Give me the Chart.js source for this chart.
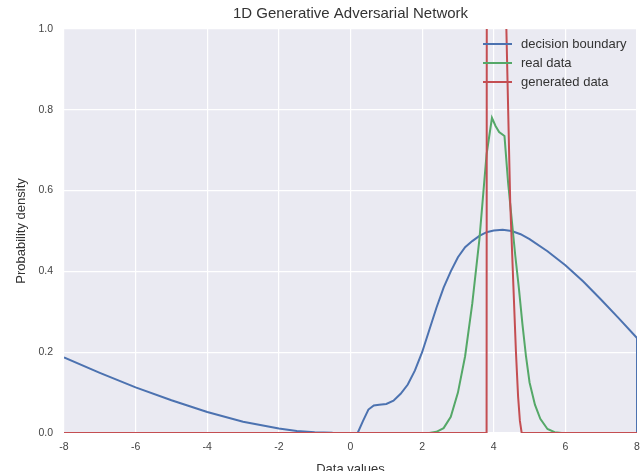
<!DOCTYPE html>
<html>
<head>
<meta charset="utf-8">
<script src="https://cdn.jsdelivr.net/npm/chart.js@4/dist/chart.umd.min.js"></script>
<style>
html,body{margin:0;padding:0;background:#fff;}
canvas{display:block;}
</style>
</head>
<body>
<canvas id="c" width="640" height="471"></canvas>
<script>
// ---- data ----
const titleText = "1D Generative Adversarial Network";
const xLabel = "Data values";
const yLabel = "Probability density";
const seriesNames = ["decision boundary", "real data", "generated data"];

const boundaryX = [-8, -7, -6, -5, -4, -3, -2, -1.5, -1, -0.5, 0, 0.2, 0.35, 0.5, 0.65, 0.8, 1.0, 1.2, 1.4, 1.6, 1.8, 2.0, 2.2, 2.4, 2.6, 2.8, 3.0, 3.2, 3.4, 3.6, 3.8, 4.0, 4.25, 4.5, 4.75, 5.0, 5.5, 6.0, 6.5, 7.0, 7.5, 8.0, 8.0];
const boundaryY = [0.187, 0.149, 0.113, 0.081, 0.052, 0.028, 0.011, 0.005, 0.002, 0.0005, 0, 0, 0.03, 0.058, 0.068, 0.07, 0.072, 0.08, 0.097, 0.12, 0.155, 0.2, 0.255, 0.31, 0.36, 0.4, 0.435, 0.46, 0.475, 0.488, 0.497, 0.501, 0.503, 0.5, 0.492, 0.48, 0.45, 0.415, 0.375, 0.33, 0.283, 0.235, 0];

const realX = [-8, 2.2, 2.4, 2.6, 2.8, 3.0, 3.2, 3.4, 3.6, 3.8, 3.95, 4.05, 4.15, 4.3, 4.4, 4.5, 4.6, 4.7, 4.8, 4.9, 5.0, 5.15, 5.3, 5.5, 5.7, 5.9, 8];
const realY = [0, 0, 0.003, 0.012, 0.04, 0.1, 0.19, 0.32, 0.48, 0.69, 0.78, 0.76, 0.745, 0.735, 0.62, 0.53, 0.44, 0.36, 0.27, 0.19, 0.125, 0.07, 0.035, 0.01, 0.002, 0, 0];

const genX = [-8, 3.80, 3.83, 4.32, 4.34, 4.46, 4.55, 4.62, 4.68, 4.73, 4.78, 8];
const genY = [0, 0, 6, 6, 1.05, 0.57, 0.36, 0.2, 0.09, 0.03, 0, 0];

const xTicks = [-8, -6, -4, -2, 0, 2, 4, 6, 8];
const yTicks = [0.0, 0.2, 0.4, 0.6, 0.8, 1.0];

const colors = ["#4C72B0", "#55A868", "#C44E52"];
// --------------------------------------

const pts = (xs, ys) => xs.map((x, i) => ({x: x, y: ys[i]}));
const FONT = "'Liberation Sans', Arial, Helvetica, sans-serif";

const bgPlugin = {
  id: 'bg',
  beforeDraw(chart) {
    const {ctx, chartArea: a} = chart;
    ctx.save();
    ctx.fillStyle = '#EAEAF2';
    ctx.fillRect(a.left, a.top, a.right - a.left, a.bottom - a.top);
    ctx.restore();
  }
};

const legendPlugin = {
  id: 'customLegend',
  afterDraw(chart) {
    const ctx = chart.ctx;
    ctx.save();
    const rows = [44, 63, 82];
    seriesNames.forEach((name, i) => {
      ctx.strokeStyle = colors[i];
      ctx.lineWidth = 2;
      ctx.beginPath();
      ctx.moveTo(483, rows[i]);
      ctx.lineTo(512, rows[i]);
      ctx.stroke();
      ctx.fillStyle = '#333';
      ctx.font = "13px " + FONT;
      ctx.textBaseline = 'middle';
      ctx.textAlign = 'left';
      ctx.fillText(name, 521, rows[i] + 0.5);
    });
    ctx.restore();
  }
};

new Chart(document.getElementById('c'), {
  type: 'line',
  data: {
    datasets: [
      {label: seriesNames[0], data: pts(boundaryX, boundaryY), borderColor: colors[0], borderWidth: 2, pointRadius: 0, tension: 0, order: 3},
      {label: seriesNames[1], data: pts(realX, realY), borderColor: colors[1], borderWidth: 2, pointRadius: 0, tension: 0, order: 2},
      {label: seriesNames[2], data: pts(genX, genY), borderColor: colors[2], borderWidth: 2, pointRadius: 0, tension: 0, order: 1}
    ]
  },
  options: {
    responsive: false,
    animation: false,
    devicePixelRatio: 1,
    layout: {padding: {left: 0, right: 3, top: 0, bottom: 0}},
    plugins: {
      legend: {display: false},
      tooltip: {enabled: false},
      title: {
        display: true,
        text: titleText,
        fullSize: false,
        color: '#333',
        font: {family: FONT, size: 15, weight: 'normal'},
        padding: {top: 5, bottom: 6}
      }
    },
    scales: {
      x: {
        type: 'linear',
        min: -8, max: 8,
        afterBuildTicks(scale) { scale.ticks = xTicks.map(v => ({value: v})); },
        afterFit(scale) { scale.height = 38; scale.paddingLeft = 0; scale.paddingRight = 0; },
        grid: {color: '#ffffff', lineWidth: 1.2, drawTicks: false},
        border: {display: false},
        ticks: {color: '#444', font: {family: FONT, size: 10.5}, padding: 8, maxRotation: 0, autoSkip: false,
                callback: v => String(v)},
        title: {display: true, text: xLabel, color: '#333', font: {family: FONT, size: 13}, padding: {top: 0, bottom: -6.5}}
      },
      y: {
        type: 'linear',
        min: 0, max: 1,
        afterBuildTicks(scale) { scale.ticks = yTicks.map(v => ({value: v})); },
        afterFit(scale) { scale.width = 64; scale.paddingTop = 0; scale.paddingBottom = 0; },
        grid: {color: '#ffffff', lineWidth: 1.2, drawTicks: false},
        border: {display: false},
        ticks: {color: '#444', font: {family: FONT, size: 10.5}, padding: 11, autoSkip: false,
                callback: v => Number(v).toFixed(1)},
        title: {display: true, text: yLabel, color: '#333', font: {family: FONT, size: 13}, padding: {top: 14, bottom: 0}}
      }
    }
  },
  plugins: [bgPlugin, legendPlugin]
});
</script>
</body>
</html>
